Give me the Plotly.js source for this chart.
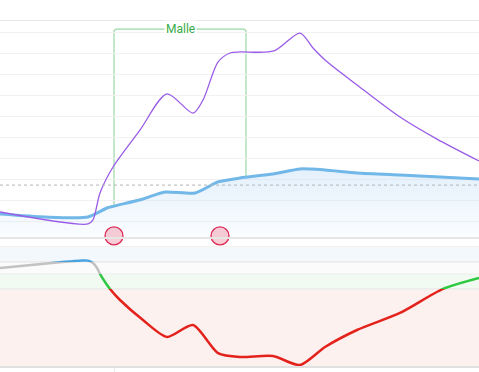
<!DOCTYPE html>
<html>
<head>
<meta charset="utf-8">
<script src="https://cdn.plot.ly/plotly-3.0.1.min.js"></script>
<style>html,body{margin:0;padding:0;background:#fff}#chart{width:479px;height:372px}</style>
</head>
<body>
<div id="chart"></div>
<script>
// ---- data ----
const purpleX = [0, 88, 93, 100, 113, 140, 167, 193, 203, 218, 230, 240, 274, 300, 313, 325, 357, 400, 437, 479];
const purpleY = [14.3, 8.6, 10.5, 23.3, 35.7, 53.3, 70.5, 61.4, 67.6, 85.7, 90.0, 90.5, 91.0, 99.5, 92.4, 86.7, 74.8, 59.5, 49.0, 38.6];

const blueX = [0, 45, 88, 107, 114, 143, 165, 195, 218, 240, 273, 300, 325, 357, 400, 440, 479];
const blueY = [13.3, 11.9, 11.9, 16.2, 17.1, 20.5, 23.8, 23.3, 28.6, 30.5, 32.4, 34.8, 34.3, 32.9, 31.9, 31.0, 30.0];

const eventX = [114, 220];
const eventY = [2.9, 2.9];

const refLevel = 27.1;            // dashed reference line
const rangeLabel = "Malle";
const rangeStart = 114, rangeEnd = 246, rangeTop = 101.4;

const lowX = [0, 65, 80, 88, 93, 97, 100, 105, 110, 120, 143, 167, 193, 218, 240, 273, 300, 325, 357, 400, 443, 479];
const lowY = [81.7, 86.9, 87.8, 87.8, 85.8, 81.7, 76.7, 70.0, 64.2, 55.0, 38.3, 24.2, 34.2, 10.8, 7.5, 8.3, 0.8, 15.8, 30.0, 44.2, 64.2, 73.3];

const bandEdges = [0, 64.2, 76.7, 86.7, 100];
const bandLine = ['#e3231b', '#2fc843', '#c2c2c2', '#4aa3e0'];
const bandFill = ['#fdf1f0', '#f2fbf2', '#fbfbfb', '#f3f8fd'];
const xTicks = [114];

// ---- layout helpers ----
const H = 372;
const topDom = [1 - 237 / H, 1 - 21 / H];
const lowDom = [1 - 366 / H, 1 - 246 / H];
function lowFrac(w) { return lowDom[0] + (w - 0) / 100 * (lowDom[1] - lowDom[0]); }
function interp(xs, ys, x) {
  for (let i = 0; i < xs.length - 1; i++) {
    if (x >= xs[i] && x <= xs[i + 1]) {
      const t = (x - xs[i]) / (xs[i + 1] - xs[i]);
      return ys[i] + t * (ys[i + 1] - ys[i]);
    }
  }
  return ys[ys.length - 1];
}

const traces = [];
traces.push({
  x: blueX, y: blueY, type: 'scatter', mode: 'lines', xaxis: 'x', yaxis: 'y',
  line: {color: '#71b8e8', width: 3, shape: 'spline', smoothing: 0.6},
  fill: 'tozeroy',
  fillgradient: {type: 'vertical', start: 2.4, stop: 34.8,
    colorscale: [[0, 'rgba(200,225,248,0.08)'], [1, 'rgba(200,225,248,0.5)']]},
  hoverinfo: 'skip'
});
traces.push({
  x: purpleX, y: purpleY, type: 'scatter', mode: 'lines', xaxis: 'x', yaxis: 'y',
  line: {color: '#9a5ce6', width: 1.3, shape: 'spline', smoothing: 0.8},
  hoverinfo: 'skip'
});
traces.push({
  x: eventX, y: eventY, type: 'scatter', mode: 'markers', xaxis: 'x', yaxis: 'y', cliponaxis: false,
  marker: {size: 18, color: 'rgba(232,90,120,0.3)', line: {color: '#dc2a55', width: 1.3}},
  hoverinfo: 'skip'
});

const layout = {
  width: 479, height: 372,
  margin: {l: 0, r: 0, t: 0, b: 0, pad: 0},
  paper_bgcolor: '#ffffff', plot_bgcolor: 'rgba(0,0,0,0)',
  showlegend: false,
  xaxis: {domain: [0, 1], range: [0, 479], anchor: 'y', showgrid: false, zeroline: false,
    showticklabels: false, ticks: '', showline: true, mirror: true, linecolor: '#e6e6e6', linewidth: 1.5},
  yaxis: {domain: topDom, range: [(242 - 237) / 2.1, (242 - 21) / 2.1], anchor: 'x', tick0: 0, dtick: 10,
    showgrid: true, gridcolor: '#f1f1f1', gridwidth: 1, zeroline: false, showticklabels: false, ticks: ''},
  xaxis2: {domain: [0, 1], range: [0, 479], anchor: 'y2', showgrid: false, zeroline: false,
    showticklabels: false, ticks: 'outside', tickvals: xTicks, ticklen: 8, tickcolor: '#ececec', tickwidth: 1,
    showline: true, linecolor: '#e0e0e0', linewidth: 1.5},
  yaxis2: {domain: lowDom, range: [0, 100], anchor: 'x2', showgrid: false, zeroline: false,
    showticklabels: false, ticks: ''},
  shapes: [],
  annotations: []
};

// band subplots: same data, each clipped to its own band
for (let i = 0; i < 4; i++) {
  const ax = 'yaxis' + (3 + i);
  layout[ax] = {domain: [lowFrac(bandEdges[i]), lowFrac(bandEdges[i + 1])],
    range: [bandEdges[i], bandEdges[i + 1]], anchor: 'x2', visible: false, fixedrange: true};
  layout.shapes.push({type: 'rect', xref: 'paper', yref: 'y2', x0: 0, x1: 1,
    y0: bandEdges[i], y1: bandEdges[i + 1], fillcolor: bandFill[i], line: {width: 0}, layer: 'below'});
  traces.push({
    x: lowX, y: lowY, type: 'scatter', mode: 'lines', xaxis: 'x2', yaxis: 'y' + (3 + i),
    line: {color: bandLine[i], width: 2.5, shape: 'spline', smoothing: 0.7},
    hoverinfo: 'skip'
  });
}
// band edge lines
const edgeColors = ['#eaeaea', '#f0f0f0', '#e8e8e8', '#f3e8d6'];
for (let i = 1; i < bandEdges.length; i++) {
  layout.shapes.push({type: 'line', xref: 'paper', yref: 'y2', x0: 0, x1: 1,
    y0: bandEdges[i], y1: bandEdges[i], line: {color: edgeColors[i - 1], width: 1.2}, layer: 'below'});
}

// dashed reference line
layout.shapes.push({type: 'line', xref: 'paper', yref: 'y', x0: 0, x1: 1, y0: refLevel, y1: refLevel,
  line: {color: '#b3b3b3', width: 1, dash: '3px,3px'}, layer: 'above'});

// range bracket
const yL = interp(blueX, blueY, rangeStart), yR = interp(blueX, blueY, rangeEnd);
const rx = 3, ry = 3 / 2.1;
layout.shapes.push({type: 'path', xref: 'x', yref: 'y',
  path: `M ${rangeStart},${yL} L ${rangeStart},${rangeTop - ry} Q ${rangeStart},${rangeTop} ${rangeStart + rx},${rangeTop} ` +
        `L ${rangeEnd - rx},${rangeTop} Q ${rangeEnd},${rangeTop} ${rangeEnd},${rangeTop - ry} L ${rangeEnd},${yR}`,
  line: {color: '#9bd7a6', width: 1.2}, layer: 'below'});
layout.annotations.push({x: (rangeStart + rangeEnd) / 2, y: rangeTop, xref: 'x', yref: 'y',
  text: rangeLabel, showarrow: false, bgcolor: '#ffffff', borderpad: 1,
  font: {family: 'Roboto, sans-serif', size: 12, color: '#35ad46'}, xanchor: 'center', yanchor: 'middle'});

Plotly.newPlot('chart', traces, layout, {displayModeBar: false, staticPlot: true});
</script>
</body>
</html>
